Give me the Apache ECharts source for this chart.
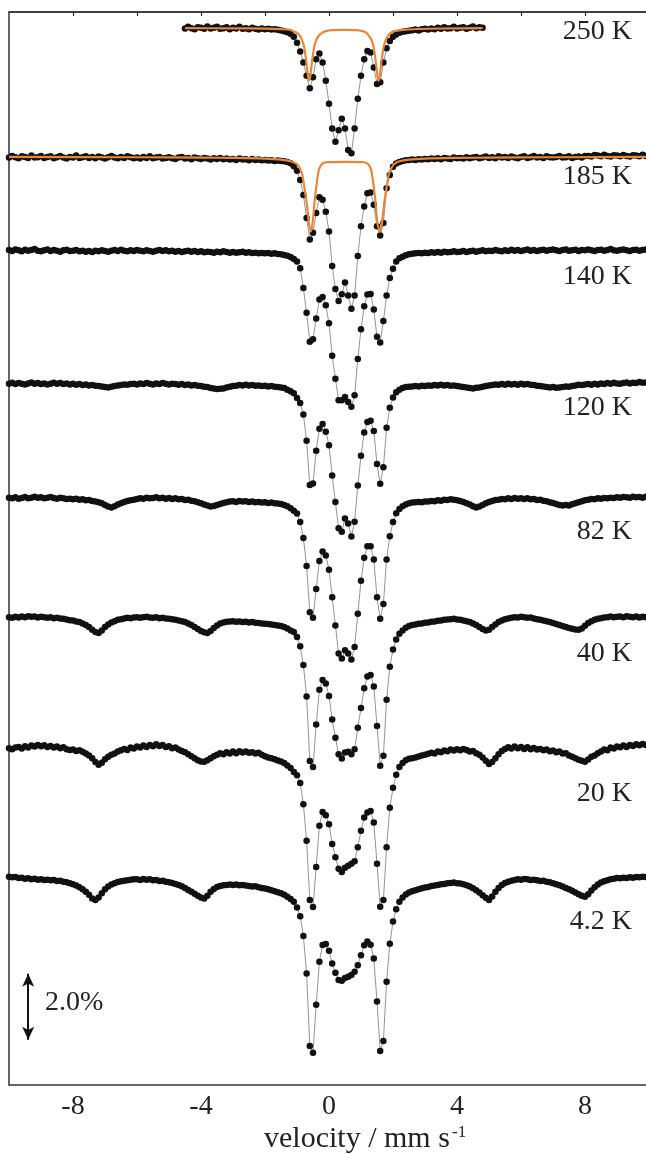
<!DOCTYPE html>
<html><head><meta charset="utf-8">
<script src="https://cdn.jsdelivr.net/npm/echarts@6/dist/echarts.min.js"></script>
<style>html,body{margin:0;padding:0;background:#fff;overflow:hidden}#c{width:646px;height:1154px}</style>
</head><body><div id="c"></div>
<script>
// velocity channels (mm/s)
const velocity = [
-10,-9.9,-9.8,-9.7,-9.6,-9.5,-9.4,-9.3,-9.2,-9.1,
-9,-8.9,-8.8,-8.7,-8.6,-8.5,-8.4,-8.3,-8.2,-8.1,
-8,-7.9,-7.8,-7.7,-7.6,-7.5,-7.4,-7.3,-7.2,-7.1,
-7,-6.9,-6.8,-6.7,-6.6,-6.5,-6.4,-6.3,-6.2,-6.1,
-6,-5.9,-5.8,-5.7,-5.6,-5.5,-5.4,-5.3,-5.2,-5.1,
-5,-4.9,-4.8,-4.7,-4.6,-4.5,-4.4,-4.3,-4.2,-4.1,
-4,-3.9,-3.8,-3.7,-3.6,-3.5,-3.4,-3.3,-3.2,-3.1,
-3,-2.9,-2.8,-2.7,-2.6,-2.5,-2.4,-2.3,-2.2,-2.1,
-2,-1.9,-1.8,-1.7,-1.6,-1.5,-1.4,-1.3,-1.2,-1.1,
-1,-0.9,-0.8,-0.7,-0.6,-0.5,-0.4,-0.3,-0.2,-0.1,
0,0.1,0.2,0.3,0.4,0.5,0.6,0.7,0.8,0.9,
1,1.1,1.2,1.3,1.4,1.5,1.6,1.7,1.8,1.9,
2,2.1,2.2,2.3,2.4,2.5,2.6,2.7,2.8,2.9,
3,3.1,3.2,3.3,3.4,3.5,3.6,3.7,3.8,3.9,
4,4.1,4.2,4.3,4.4,4.5,4.6,4.7,4.8,4.9,
5,5.1,5.2,5.3,5.4,5.5,5.6,5.7,5.8,5.9,
6,6.1,6.2,6.3,6.4,6.5,6.6,6.7,6.8,6.9,
7,7.1,7.2,7.3,7.4,7.5,7.6,7.7,7.8,7.9,
8,8.1,8.2,8.3,8.4,8.5,8.6,8.7,8.8,8.9,
9,9.1,9.2,9.3,9.4,9.5,9.6,9.7,9.8,9.9,
10];

// absorption (%) below each spectrum's baseline, one value per velocity channel
const abs250 = [
null,null,null,null,null,null,null,null,null,null,null,
null,null,null,null,null,null,null,null,null,null,null,
null,null,null,null,null,null,null,null,null,null,null,
null,null,null,null,null,null,null,null,null,null,null,
null,null,null,null,null,null,null,null,null,null,null,
0.02,-0.03,0.01,0.04,-0.02,0.0,0.03,-0.04,0.02,0.0,
-0.03,0.03,0.01,-0.02,0.04,0.0,0.02,-0.03,0.03,0.01,
0.04,0.0,0.03,0.05,0.02,0.04,0.03,0.05,0.04,0.06,
0.08,0.1,0.13,0.18,0.27,0.45,0.72,1.05,1.45,1.83,
1.5,0.95,0.78,1.05,1.6,2.3,3.05,3.45,3.1,2.75,
3.05,3.7,3.8,3.05,2.15,1.45,0.95,0.7,0.75,1.2,
1.7,1.65,1.05,0.62,0.4,0.27,0.2,0.15,0.12,0.1,
0.09,
0.07,0.05,0.08,0.04,0.03,0.05,0.02,0.04,0.0,0.03,
-0.02,0.02,0.01,-0.03,0.02,0.0,-0.02,0.03,0.0,-0.04,
0.01,-0.02,0.0,
null,null,null,null,null,null,null,null,null,null,null,null,null,
null,null,null,null,null,null,null,null,null,null,null,null,null,
null,null,null,null,null,null,null,null,null,null,null,null,null,
null,null,null,null,null,null,null,null,null,null,null,null,null];

const abs185 = [
0.02,-0.03,0.01,0.04,-0.02,0.0,0.03,-0.04,0.02,0.01,
-0.03,0.03,0.0,-0.02,0.04,0.01,-0.03,0.02,0.05,0.0,
0.02,-0.04,0.03,0.01,-0.02,0.03,0.0,0.04,-0.01,0.02,
0.05,0.01,-0.03,0.02,0.04,0.0,0.03,-0.02,0.01,0.04,
0.02,0.05,0.0,0.03,-0.02,0.04,0.02,0.0,0.05,0.03,
0.01,0.04,0.06,0.02,0.0,0.05,0.03,0.07,0.02,0.04,
0.06,0.03,0.05,0.08,0.04,0.06,0.03,0.07,0.05,0.08,
0.06,0.09,0.05,0.08,0.07,0.1,0.06,0.09,0.08,0.1,
0.09,0.11,0.1,0.12,0.11,
0.12,0.13,0.15,0.19,0.28,0.42,0.7,1.15,1.85,2.5,
2.3,1.7,1.22,1.3,1.66,2.26,3.3,4.0,4.36,4.16,
3.8,4.2,4.6,4.2,3.0,2.1,1.5,1.1,1.08,1.45,
2.1,2.38,2.0,0.95,0.55,0.3,0.2,0.15,0.12,0.1,
0.09,
0.08,0.09,0.07,0.08,0.06,
0.07,0.05,0.06,0.04,0.07,0.03,0.05,0.06,0.02,0.04,
0.03,0.05,0.01,0.04,0.02,0.0,0.04,0.02,-0.01,0.03,
0.01,0.04,-0.02,0.02,0.0,0.03,-0.01,0.02,0.04,0.0,
-0.02,0.03,0.01,-0.03,0.02,0.0,0.03,-0.02,0.01,0.02,
0.0,-0.03,0.02,0.01,-0.02,0.03,0.0,-0.01,0.02,-0.03,
-0.03,-0.01,-0.06,-0.04,-0.02,-0.07,-0.03,-0.01,-0.05,-0.04,
-0.02,-0.06,-0.03,-0.01,-0.05,-0.04,-0.02,-0.07,-0.03,-0.04];

const abs140 = [
0.0,0.03,-0.02,0.01,0.04,-0.01,0.02,0.0,-0.03,0.02,
0.04,0.01,-0.02,0.03,0.0,0.02,0.05,0.01,-0.01,0.03,
0.02,0.0,0.04,0.02,0.05,0.03,0.06,0.02,0.04,0.01,
0.03,0.05,0.02,0.0,0.03,-0.01,0.02,0.04,0.01,0.03,
0.0,0.02,0.04,0.01,0.03,0.05,0.02,0.0,0.03,0.01,
0.04,0.02,0.05,0.03,0.06,0.04,0.02,0.05,0.03,0.06,
0.04,0.07,0.05,0.06,0.08,0.05,0.07,0.04,0.06,0.08,
0.06,0.08,0.07,0.05,0.08,0.07,0.09,0.08,0.1,0.09,
0.1,0.09,0.11,0.1,0.12,
0.13,0.15,0.17,0.21,0.27,0.35,0.55,1.15,1.9,2.78,
2.7,2.07,1.5,1.42,1.67,2.22,3.2,3.9,4.55,4.55,
4.45,4.6,4.75,4.4,3.3,2.4,1.7,1.35,1.33,1.8,
2.63,2.8,2.15,1.38,0.85,0.57,0.35,0.25,0.2,0.16,
0.13,
0.11,0.1,0.09,0.1,0.08,
0.09,0.07,0.08,0.06,0.08,0.05,0.07,0.06,0.04,0.06,
0.05,0.03,0.06,0.04,0.02,0.05,0.03,0.01,0.04,0.02,
0.03,0.0,0.02,0.04,0.01,0.03,-0.01,0.02,0.0,0.03,
0.01,-0.02,0.02,0.0,0.03,0.01,-0.01,0.02,0.0,-0.02,
0.01,0.03,0.0,-0.02,0.02,0.01,-0.01,0.03,0.0,0.01,
-0.02,0.01,0.03,0.0,-0.01,0.02,0.0,-0.03,0.01,0.02,
0.0,-0.02,0.01,0.03,0.0,-0.01,0.02,0.0,-0.02,0.01];

const abs120 = [
0.02,-0.01,0.03,0.0,0.02,0.04,0.01,-0.02,0.02,0.0,
0.03,0.01,0.04,0.02,-0.01,0.02,0.0,0.03,0.01,0.04,
0.02,0.05,0.03,0.06,0.04,0.07,0.06,0.08,0.09,0.1,
0.12,0.13,0.11,0.09,0.07,0.06,0.04,0.05,0.03,0.02,
0.04,0.01,0.03,0.0,0.02,0.04,0.01,0.03,0.0,0.02,
0.04,0.02,0.03,0.05,0.03,0.06,0.04,0.07,0.06,0.08,
0.09,0.11,0.12,0.15,0.16,0.18,0.17,0.16,0.13,0.11,
0.09,0.08,0.06,0.07,0.05,0.07,0.06,0.08,0.07,0.09,
0.08,0.1,0.09,0.11,0.12,
0.13,0.15,0.2,0.25,0.31,0.45,0.6,0.95,1.75,3.09,
3.04,2.05,1.38,1.24,1.47,1.88,2.8,3.6,4.4,4.5,
4.1,4.25,4.65,4.2,3.1,2.2,1.5,1.18,1.14,1.45,
2.45,3.05,2.55,1.35,0.75,0.44,0.28,0.2,0.15,0.12,
0.11,
0.1,0.09,0.1,0.08,0.09,
0.07,0.08,0.06,0.07,0.05,0.07,0.06,0.08,0.07,0.09,
0.1,0.12,0.13,0.15,0.16,0.14,0.13,0.11,0.09,0.07,
0.06,0.04,0.05,0.03,0.05,0.02,0.04,0.03,0.05,0.02,
0.04,0.03,0.05,0.06,0.08,0.09,0.1,0.12,0.13,0.12,
0.14,0.13,0.12,0.1,0.11,0.09,0.07,0.05,0.06,0.04,
0.03,0.05,0.02,0.04,0.01,0.03,0.0,0.02,-0.01,0.01,
0.02,0.0,-0.02,0.01,-0.01,0.0,-0.03,-0.01,-0.02,0.0];

const abs82 = [
-0.02,0.0,-0.03,0.01,-0.01,-0.04,0.0,-0.02,-0.05,-0.02,
-0.03,0.0,-0.02,-0.04,-0.01,0.01,-0.02,0.0,0.02,0.01,
0.03,0.01,0.04,0.03,0.06,0.05,0.08,0.1,0.12,0.15,
0.2,0.25,0.28,0.24,0.19,0.15,0.11,0.08,0.06,0.04,
0.02,0.0,0.01,-0.02,0.0,-0.01,-0.03,0.0,-0.02,0.01,
-0.01,0.02,0.0,0.03,0.02,0.05,0.04,0.07,0.09,0.12,
0.15,0.19,0.22,0.25,0.23,0.2,0.17,0.14,0.12,0.1,
0.09,0.11,0.08,0.1,0.09,0.11,0.1,0.12,0.11,0.13,
0.12,0.14,0.13,0.15,0.16,
0.17,0.2,0.24,0.3,0.38,0.46,0.72,1.2,2.05,3.45,
3.62,2.75,1.9,1.61,1.73,2.16,3.0,3.85,4.7,4.85,
4.6,4.7,4.88,4.5,3.5,2.5,1.8,1.45,1.45,1.85,
3.0,3.65,3.2,1.85,1.15,0.72,0.45,0.32,0.24,0.19,
0.15,
0.13,0.12,0.11,0.12,0.1,
0.1,0.08,0.09,0.06,0.07,0.04,0.05,0.03,0.04,0.06,
0.08,0.11,0.15,0.19,0.24,0.28,0.25,0.2,0.15,0.11,
0.08,0.05,0.04,0.02,0.03,0.0,0.02,-0.01,0.01,0.0,
0.02,0.0,0.03,0.02,0.05,0.04,0.07,0.09,0.12,0.14,
0.17,0.2,0.22,0.2,0.22,0.18,0.15,0.12,0.09,0.06,
0.04,0.02,0.03,0.0,0.01,-0.01,0.0,-0.02,-0.01,-0.03,
-0.02,-0.04,-0.03,-0.02,-0.05,-0.03,-0.04,-0.02,-0.05,-0.03];

const abs40 = [
0.0,0.02,-0.01,0.01,-0.02,0.0,-0.03,-0.01,-0.02,0.01,
-0.01,0.0,0.02,0.0,0.03,0.02,0.04,0.05,0.07,0.09,
0.1,0.13,0.15,0.19,0.24,0.3,0.38,0.45,0.48,0.4,
0.3,0.22,0.16,0.12,0.08,0.06,0.04,0.02,0.03,0.01,
0.0,0.02,0.0,-0.01,0.01,0.02,0.0,0.03,0.02,0.04,
0.05,0.06,0.08,0.1,0.12,0.15,0.19,0.24,0.3,0.36,
0.42,0.46,0.48,0.42,0.33,0.25,0.19,0.16,0.14,0.13,
0.12,0.14,0.13,0.15,0.14,0.16,0.15,0.17,0.18,0.19,
0.2,0.21,0.22,0.24,0.25,
0.27,0.3,0.34,0.4,0.45,0.6,0.88,1.45,2.4,4.36,
4.54,3.25,2.2,1.9,2.01,2.39,3.1,3.65,4.15,4.28,
4.1,4.08,4.15,4.0,3.35,2.75,2.15,1.8,1.75,2.1,
3.3,4.5,4.2,2.5,1.5,0.98,0.68,0.5,0.4,0.32,
0.27,
0.24,0.22,0.2,0.19,0.17,
0.16,0.14,0.13,0.11,0.1,0.08,0.07,0.06,0.05,0.07,
0.08,0.1,0.12,0.15,0.19,0.24,0.3,0.36,0.4,0.38,
0.3,0.22,0.15,0.1,0.06,0.04,0.02,0.0,0.01,-0.01,
0.0,0.02,0.01,0.04,0.06,0.08,0.1,0.12,0.15,0.18,
0.21,0.24,0.27,0.3,0.33,0.35,0.37,0.38,0.34,0.26,
0.18,0.12,0.08,0.05,0.03,0.01,0.0,-0.02,0.0,-0.01,
-0.02,0.0,-0.03,-0.01,0.0,-0.02,0.01,-0.01,0.0,-0.02];

const abs20 = [
0.0,0.03,-0.02,-0.04,0.01,-0.06,-0.02,-0.08,-0.05,-0.1,
-0.06,-0.09,-0.04,-0.07,-0.02,-0.05,0.0,-0.03,0.03,0.05,
0.04,0.08,0.06,0.11,0.16,0.22,0.3,0.42,0.5,0.44,
0.33,0.26,0.2,0.16,0.1,0.06,0.02,0.05,-0.02,0.01,
-0.05,-0.02,-0.08,-0.04,-0.1,-0.06,-0.12,-0.07,-0.1,-0.04,
-0.06,0.0,-0.02,0.04,0.08,0.12,0.18,0.24,0.3,0.36,
0.4,0.41,0.36,0.3,0.24,0.2,0.15,0.18,0.12,0.16,
0.1,0.15,0.09,0.13,0.1,0.14,0.12,0.16,0.14,0.2,
0.24,0.28,0.3,0.33,0.37,
0.4,0.45,0.52,0.6,0.72,0.82,1.05,1.7,2.8,4.6,
4.81,3.6,2.35,1.93,2.03,2.3,2.9,3.3,3.65,3.75,
3.62,3.56,3.5,3.42,3.0,2.5,2.1,1.95,1.9,2.25,
3.5,4.8,4.6,3.0,1.8,1.2,0.8,0.57,0.45,0.36,
0.32,
0.3,0.28,0.25,0.22,0.2,
0.17,0.14,0.16,0.1,0.12,0.07,0.09,0.04,0.07,0.03,
0.06,0.02,0.05,0.1,0.08,0.15,0.2,0.28,0.38,0.48,
0.42,0.3,0.18,0.08,0.02,-0.03,0.01,-0.05,0.0,-0.04,
0.02,-0.03,0.03,-0.01,0.04,0.02,0.06,0.04,0.09,0.07,
0.12,0.1,0.16,0.15,0.22,0.26,0.3,0.35,0.38,0.41,
0.34,0.26,0.22,0.15,0.1,0.04,0.06,-0.02,0.01,-0.05,
-0.03,-0.08,-0.04,-0.1,-0.07,-0.12,-0.09,-0.13,-0.1,-0.14];

const abs4 = [
-0.08,-0.06,-0.07,-0.04,-0.05,-0.02,-0.03,0.0,-0.02,0.01,
0.0,0.02,0.01,0.03,0.02,0.05,0.04,0.07,0.09,0.12,
0.15,0.19,0.24,0.3,0.38,0.47,0.58,0.63,0.55,0.42,
0.3,0.22,0.16,0.12,0.08,0.06,0.04,0.03,0.01,0.0,
0.0,0.02,-0.01,0.01,0.0,0.03,0.02,0.05,0.04,0.07,
0.09,0.11,0.14,0.17,0.21,0.26,0.32,0.38,0.44,0.5,
0.55,0.58,0.5,0.38,0.29,0.23,0.2,0.18,0.17,0.16,
0.17,0.16,0.18,0.17,0.19,0.2,0.22,0.21,0.24,0.26,
0.28,0.3,0.33,0.36,0.39,
0.42,0.47,0.53,0.6,0.68,0.85,1.12,1.72,2.85,5.05,
5.25,3.8,2.5,1.99,1.96,2.16,2.55,2.83,3.05,3.07,
2.99,2.95,2.9,2.8,2.6,2.3,2.0,1.88,1.98,2.4,
3.7,5.2,4.9,3.1,1.95,1.28,0.91,0.68,0.55,0.46,
0.4,
0.36,0.33,0.3,0.27,0.25,
0.23,0.2,0.19,0.17,0.15,0.14,0.12,0.11,0.1,0.12,
0.13,0.15,0.18,0.22,0.27,0.33,0.4,0.48,0.56,0.63,
0.52,0.38,0.26,0.17,0.11,0.07,0.04,0.02,0.0,0.01,
-0.01,0.0,0.02,0.01,0.03,0.05,0.04,0.07,0.09,0.12,
0.15,0.18,0.22,0.26,0.3,0.35,0.4,0.45,0.5,0.53,
0.45,0.34,0.24,0.16,0.1,0.06,0.03,0.0,-0.02,-0.04,
-0.03,-0.05,-0.04,-0.06,-0.05,-0.07,-0.06,-0.08,-0.07,-0.08];

// fitted doublet curves (orange)
const fitVel250 = [-4.5,-3.0,-2.0,-1.5,-1.2,-1.12,-1.02,-0.92,-0.84,-0.79,-0.75,-0.72,-0.7,-0.67,-0.65,-0.62,-0.59,-0.57,-0.54,-0.52,-0.49,-0.45,-0.4,-0.32,-0.22,-0.1,0.1,0.47,0.85,1.05,1.17,1.25,1.33,1.38,1.42,1.45,1.47,1.5,1.52,1.55,1.58,1.6,1.63,1.65,1.68,1.72,1.77,1.85,1.95,2.05,2.3,2.8,3.5,4.8];
const fit250 =    [0.01,0.015,0.025,0.04,0.06,0.1,0.14,0.23,0.37,0.53,0.74,0.94,1.1,1.35,1.5,1.59,1.5,1.35,1.1,0.94,0.74,0.53,0.37,0.24,0.15,0.1,0.07,0.06,0.07,0.1,0.15,0.24,0.37,0.53,0.74,0.94,1.1,1.35,1.5,1.6,1.5,1.35,1.1,0.94,0.74,0.53,0.37,0.23,0.14,0.1,0.06,0.035,0.02,0.01];
const fitVel185 = [-10,-6,-4,-3,-2,-1.5,-1.2,-1.0,-0.9,-0.84,-0.79,-0.74,-0.7,-0.66,-0.62,-0.57,-0.52,-0.48,-0.45,-0.41,-0.37,-0.33,-0.28,-0.2,-0.05,0.5,1.05,1.2,1.28,1.33,1.37,1.41,1.45,1.48,1.52,1.6,1.65,1.69,1.73,1.77,1.82,1.87,1.93,2.03,2.2,2.5,3,4,5,7,10];
const fit185 =    [0.0,0.01,0.02,0.03,0.05,0.08,0.13,0.22,0.37,0.52,0.8,1.1,1.38,1.7,2.05,2.26,2.05,1.7,1.35,1.0,0.7,0.45,0.3,0.2,0.16,0.15,0.16,0.2,0.3,0.45,0.7,1.0,1.35,1.7,2.05,2.26,2.05,1.7,1.38,1.1,0.8,0.52,0.37,0.22,0.13,0.08,0.05,0.03,0.02,0.01,0.0];

const temperatures = ['250 K','185 K','140 K','120 K','82 K','40 K','20 K','4.2 K'];
const spectra = [abs250, abs185, abs140, abs120, abs82, abs40, abs20, abs4];
// vertical stacking offsets of each spectrum's baseline (%)
const offsets = [-0.48,-4.39,-7.21,-11.24,-14.73,-18.33,-22.30,-26.27];
const labelY = [32,177,277,408,532,654,794,922];
const xTickLabels = [-8,-4,0,4,8];
const scaleBarPercent = 2.0;
const scaleBarTop = -29.13;
const scaleBarVel = -9.4;

const FONT = '"Liberation Serif","Times New Roman",serif';
const chart = echarts.init(document.getElementById('c'), null, {renderer:'canvas'});

const series = spectra.map((a, k) => ({
  type: 'line',
  name: temperatures[k],
  data: velocity.map((v, i) => [v, a[i] == null ? null : offsets[k] - a[i]]),
  symbol: 'circle', symbolSize: 6.5, showAllSymbol: true,
  itemStyle: {color: '#111'},
  lineStyle: {color: '#666', width: 0.7},
  connectNulls: false, silent: true, z: 2
}));
series.push({
  type: 'line', data: fitVel250.map((v, i) => [v, offsets[0] - fit250[i]]),
  symbol: 'none', smooth: 0.3, lineStyle: {color: '#E8873A', width: 2.2}, z: 3, silent: true
});
series.push({
  type: 'line', data: fitVel185.map((v, i) => [v, offsets[1] - fit185[i]]),
  symbol: 'none', smooth: 0.3, lineStyle: {color: '#E8873A', width: 2.2}, z: 3, silent: true
});
series.push({
  type: 'line', data: [], symbol: 'none', silent: true,
  markLine: {
    silent: true, symbol: ['arrow', 'arrow'], symbolSize: [9, 13],
    lineStyle: {color: '#111', width: 2, type: 'solid'}, label: {show: false},
    data: [[{coord: [scaleBarVel, scaleBarTop]}, {coord: [scaleBarVel, scaleBarTop - scaleBarPercent]}]]
  }
});

const graphics = temperatures.map((t, k) => ({
  type: 'text', x: 632, y: labelY[k],
  style: {text: t, font: '28px ' + FONT, fill: '#222', align: 'right', verticalAlign: 'middle', textAlign: 'right', textVerticalAlign: 'middle'}
}));
graphics.push({type: 'text', x: 45, y: 1003,
  style: {text: scaleBarPercent.toFixed(1) + '%', font: '28px ' + FONT, fill: '#222', align: 'left', verticalAlign: 'middle', textAlign: 'left', textVerticalAlign: 'middle'}});
graphics.push({type: 'text', x: 264, y: 1139,
  style: {text: 'velocity / mm s', font: '30px ' + FONT, fill: '#222', align: 'left', verticalAlign: 'middle', textAlign: 'left', textVerticalAlign: 'middle'}});
graphics.push({type: 'text', x: 452, y: 1133,
  style: {text: '-1', font: '17px ' + FONT, fill: '#222', align: 'left', verticalAlign: 'middle', textAlign: 'left', textVerticalAlign: 'middle'}});

chart.setOption({
  animation: false,
  backgroundColor: '#fff',
  grid: {left: 9, width: 640, top: 12, bottom: 69, show: true, borderColor: '#333', borderWidth: 1.5, backgroundColor: 'transparent',
         containLabel: false, outerBoundsMode: 'none'},
  xAxis: {
    type: 'value', min: -10, max: 10, interval: 2,
    axisLine: {show: true, lineStyle: {color: '#333', width: 1.5}},
    axisTick: {show: true, inside: false, length: 4, lineStyle: {color: '#333', width: 1.2}},
    axisLabel: {
      color: '#222', fontFamily: FONT, fontSize: 28, margin: 8,
      showMinLabel: false, showMaxLabel: false,
      formatter: v => xTickLabels.indexOf(v) >= 0 ? String(v) : ''
    },
    splitLine: {show: false}
  },
  yAxis: {type: 'value', min: -32.5, max: 0, show: false},
  graphic: graphics,
  series: series
});
</script>
</body></html>
